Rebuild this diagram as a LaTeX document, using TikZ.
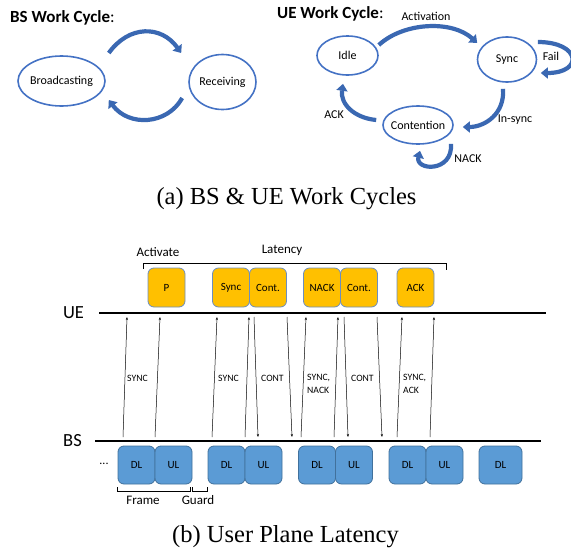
\documentclass[tikz,border=0pt]{standalone}
\usepackage{fontspec}
\setmainfont{Liberation Serif}
\newfontfamily\calibri{Carlito}
\usetikzlibrary{shapes.geometric,arrows.meta,calc}
\definecolor{bordure}{HTML}{4472C4}
\definecolor{fleche}{HTML}{3A68B2}
\definecolor{jaune}{HTML}{FFC000}
\definecolor{bleu}{HTML}{5B9BD5}
\definecolor{contour}{HTML}{41719C}
\definecolor{gris}{HTML}{6C8EBF}

\begin{document}
\begin{tikzpicture}[x=1pt, y=-1pt]
  \tikzstyle{etat}=[ellipse, draw=bordure, line width=1.6pt, inner sep=0, font=\calibri\fontsize{12}{14}\selectfont];
  \tikzstyle{tour}=[draw=fleche, line width=4.2pt, -{Triangle[length=7pt,width=11pt]}];
  \tikzstyle{etiq}=[inner sep=0, font=\calibri\fontsize{12}{14}\selectfont];
  \tikzstyle{titre}=[inner sep=0, anchor=west, font=\calibri\bfseries\fontsize{17}{20}\selectfont];
  \tikzstyle{paquet}=[draw=gris, line width=0.8pt, fill=jaune, rounded corners=6pt, minimum width=37pt, minimum height=39pt, inner sep=0, font=\calibri\fontsize{11}{13}\selectfont];
  \tikzstyle{trame}=[draw=contour, line width=0.8pt, fill=bleu, rounded corners=6pt, minimum width=37pt, minimum height=38pt, inner sep=0, font=\calibri\fontsize{11}{13}\selectfont];
  \tikzstyle{msg}=[line width=0.5pt, -{Stealth[length=3pt,width=2.2pt]}];
  \tikzstyle{msgtxt}=[inner sep=0, anchor=west, align=left, font=\calibri\fontsize{9.7}{13}\selectfont];
  \tikzstyle{texte}=[inner sep=0, font=\calibri\fontsize{13}{15}\selectfont];
  \tikzstyle{axe}=[inner sep=0, font=\calibri\fontsize{18.5}{22}\selectfont];
  \tikzstyle{legende}=[inner sep=0, font=\fontsize{24.5}{28}\selectfont];
  \tikzstyle{crochet}=[line width=1.2pt];

  \useasboundingbox (0,0) rectangle (571,552);

  \node[titre] (titrebs) at (10,18) {BS Work Cycle\mdseries:};
  \node[titre] (titreue) at (277,14) {UE Work Cycle\mdseries:};

  \node[etat, minimum width=87pt, minimum height=50pt] (diff) at (61.5,81) {\makebox[0pt]{Broadcasting}};
  \node[etat, minimum width=67pt, minimum height=55pt] (recep) at (222.5,82) {\makebox[0pt]{Receiving}};
  \draw[tour] ($(diff.east)+(3,-28)$) .. controls +(20,-28) and +(-20,-28) .. ($(recep.west)+(-7,-29)$);
  \draw[tour] ($(recep.west)+(-6,16)$) .. controls +(-15,27) and +(20,27) .. ($(diff.east)+(3,19)$);

  \node[etat, minimum width=61pt, minimum height=39pt] (idle) at (347.5,55.5) {\makebox[0pt]{Idle}};
  \node[etat, minimum width=59pt, minimum height=45pt] (sync) at (507,59.5) {\makebox[0pt]{Sync}};
  \node[etat, minimum width=70pt, minimum height=38pt] (cont) at (418,125) {\makebox[0pt]{Contention}};
  \draw[tour] ($(idle.east)+(0,-10.5)$) .. controls +(25,-23) and +(-25,-23) .. ($(sync.west)+(0.5,-16.5)$);
  \draw[tour] ($(sync.east)+(0.5,-17.5)$) .. controls +(43,0) and +(43,0) .. ($(sync.east)+(3.5,13.5)$);
  \draw[tour] ($(sync.south)+(-4,6)$) .. controls +(2,25) and +(22,0) .. ($(cont.east)+(9,2)$);
  \draw[tour] ($(cont.west)+(-6,-5)$) .. controls +(-22,-2) and +(-3,20) .. ($(idle.south)+(-4.5,8)$);
  \draw[tour] ($(cont.south)+(33,-1)$) .. controls +(2,29) and +(-5,20) .. ($(cont.south)+(2,6)$);
  \node[etiq] (lactiv) at (426,16) {Activation};
  \node[etiq] (lfail) at (551,56) {Fail};
  \node[etiq] (linsync) at (515,120) {In-sync};
  \node[etiq] (lack) at (334,115) {ACK};
  \node[etiq] (lnack) at (468,159) {NACK};

  \node[legende] (capa) at (286.5,199) {(a) BS \& UE Work Cycles};

  \node[axe] (ue) at (73.5,313) {UE};
  \node[axe] (bs) at (72.5,441) {BS};
  \coordinate (ue0) at (99,313);
  \coordinate (ue1) at (546,313);
  \coordinate (bs0) at (95,441);
  \coordinate (bs1) at (541,441);
  \draw[line width=2pt] (ue0) -- (ue1);
  \draw[line width=2pt] (bs0) -- (bs1);

  \foreach \x/\t [count=\i] in {166.5/P, 231/Sync, 268/Cont., 322/NACK, 359/Cont., 415.5/ACK}
    \node[paquet] (p\i) at (\x,287.5) {\t};
  \draw[crochet] ($(p1.north west)+(-4,1)$) -- ++(0,-5) -| ($(p6.north east)+(12,2)$);
  \node[texte] (lactive) at (158,252) {Activate};
  \node[texte] (llat) at (282,250) {Latency};

  \foreach \x/\t [count=\i] in {136.5/DL, 173.5/UL, 226.5/DL, 263.5/UL, 317/DL, 354/UL, 407.5/DL, 444.5/UL}
    \node[trame] (t\i) at (\x,465) {\t};
  \node[trame, minimum width=43pt] (t9) at (500.5,465) {DL};
  \node[inner sep=0, font=\calibri\fontsize{12}{14}\selectfont] (pts) at (104,464) {...};
  \draw[crochet] ($(t1.south west)+(0,3)$) -- ++(0,4) -| ($(t2.south east)+(-2,3)$);
  \draw[crochet] ($(t2.south east)+(0,3)$) -- ++(0,4) -| ($(t3.south west)+(0,3)$);
  \node[texte] (lframe) at (143,500) {Frame};
  \node[texte] (lguard) at (198,500) {Guard};

  \foreach \xb/\xh [count=\i] in {123/127, 155/160, 212/217, 245/249, 301/306, 334/338, 397/402, 430/434} {
    \coordinate (m\i) at (\xb,437);
    \coordinate (n\i) at (\xh,317);
    \draw[msg] (m\i) -- (n\i);
  }
  \foreach \xh/\xb [count=\i] in {254/258, 287/292, 344/348, 377/382} {
    \coordinate (d\i) at (\xh,317);
    \coordinate (e\i) at (\xb,437);
    \draw[msg] (d\i) -- (e\i);
  }
  \node[msgtxt] (s1) at (127,378) {SYNC};
  \node[msgtxt] (s2) at (218,378) {SYNC};
  \node[msgtxt] (c1) at (261,378) {CONT};
  \node[msgtxt] (s3) at (307,383.5) {SYNC,\\NACK};
  \node[msgtxt] (c2) at (351,378) {CONT};
  \node[msgtxt] (s4) at (403,383.5) {SYNC,\\ACK};

  \node[legende] (capb) at (285.5,537) {(b) User Plane Latency};
\end{tikzpicture}
\end{document}
